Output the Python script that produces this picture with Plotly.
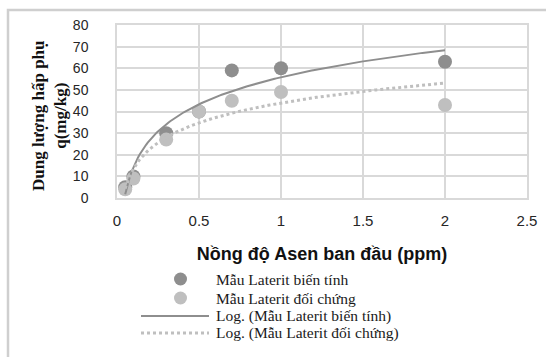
import numpy as np
import plotly.graph_objects as go

# ---- data ----
conc = [0.05, 0.1, 0.3, 0.5, 0.7, 1.0, 2.0]          # Nồng độ Asen ban đầu (ppm)
q_bien_tinh = [5, 10, 30, 40, 59, 60, 63]            # Mẫu Laterit biến tính
q_doi_chung = [4, 9, 27, 40, 45, 49, 43]             # Mẫu Laterit đối chứng
x_ticks = [0, 0.5, 1, 1.5, 2, 2.5]
y_ticks = [0, 10, 20, 30, 40, 50, 60, 70, 80]

names = ["Mẫu Laterit biến tính", "Mẫu Laterit đối chứng",
         "Log. (Mẫu Laterit biến tính)", "Log. (Mẫu Laterit đối chứng)"]

# logarithmic trendlines (least squares on ln x), as in the spreadsheet chart
x_arr = np.array(conc)
xs = np.linspace(x_arr.min(), x_arr.max(), 200)
a1, b1 = np.polyfit(np.log(x_arr), np.array(q_bien_tinh), 1)
a2, b2 = np.polyfit(np.log(x_arr), np.array(q_doi_chung), 1)
trend1 = a1 * np.log(xs) + b1
trend2 = a2 * np.log(xs) + b2

DARK = "#8e8e8e"
LIGHT = "#bfbfbf"
GRID = "#d9d9d9"
FRAME = "#cfcfcf"

W, H = 547, 358
L, R, T, B = 117, 20, 25, 160
PW, PH = W - L - R, H - T - B


def px(xp):
    return (xp - L) / PW


def py(yp):
    return (H - B - yp) / PH


fig = go.Figure()
fig.add_trace(go.Scatter(x=conc, y=q_bien_tinh, mode="markers", name=names[0],
                         marker=dict(size=14, color=DARK)))
fig.add_trace(go.Scatter(x=conc, y=q_doi_chung, mode="markers", name=names[1],
                         marker=dict(size=14, color=LIGHT)))
fig.add_trace(go.Scatter(x=xs, y=trend1, mode="lines", name=names[2],
                         line=dict(color=DARK, width=2)))
fig.add_trace(go.Scatter(x=xs, y=trend2, mode="lines", name=names[3],
                         line=dict(color=LIGHT, width=3, dash="dot")))

fig.update_layout(
    width=W, height=H,
    margin=dict(l=L, r=R, t=T, b=B, autoexpand=False),
    paper_bgcolor="white", plot_bgcolor="white",
    showlegend=False,
    xaxis=dict(range=[0, 2.5], tickvals=x_ticks, ticktext=[str(v) for v in x_ticks],
               showgrid=True, gridcolor=GRID, gridwidth=1.5,
               showline=True, linecolor=GRID, linewidth=1.5, mirror=True,
               zeroline=False, ticks="outside", ticklen=8, tickcolor="rgba(0,0,0,0)",
               tickfont=dict(family="Liberation Sans", size=15, color="#262626"),
               title=dict(text="<b>Nồng độ Asen ban đầu (ppm)</b>", standoff=20,
                          font=dict(family="Liberation Sans", size=18, color="#111111"))),
    yaxis=dict(range=[0, 80], tickvals=y_ticks,
               showgrid=True, gridcolor=GRID, gridwidth=1.5,
               showline=True, linecolor=GRID, linewidth=1.5, mirror=True,
               zeroline=False, ticks="outside", ticklen=24, tickcolor="rgba(0,0,0,0)",
               tickfont=dict(family="Liberation Sans", size=14, color="#262626")),
)

# y-axis title (two lines, bold serif)
fig.add_annotation(text="<b>Dung lượng hấp phụ<br>q(mg/kg)</b>", textangle=-90,
                   xref="paper", yref="paper", x=px(49), y=py(116),
                   xanchor="center", yanchor="middle", showarrow=False,
                   font=dict(family="Liberation Serif", size=17, color="#111111"))

# manual legend below the x-axis title
rows_y = [279, 298, 316, 333]
for i, name in enumerate(names):
    fig.add_annotation(text=name, xref="paper", yref="paper",
                       x=px(214), y=py(rows_y[i]), xanchor="left", yanchor="middle",
                       showarrow=False,
                       font=dict(family="Liberation Serif", size=15.5, color="#1a1a1a"))
for i, col in enumerate([DARK, LIGHT]):
    fig.add_shape(type="circle", xref="paper", yref="paper",
                  x0=px(174), x1=px(187), y0=py(rows_y[i] - 6.5), y1=py(rows_y[i] + 6.5),
                  fillcolor=col, line=dict(width=0))
fig.add_shape(type="line", xref="paper", yref="paper",
              x0=px(141), x1=px(209), y0=py(rows_y[2]), y1=py(rows_y[2]),
              line=dict(color=DARK, width=2))
fig.add_shape(type="line", xref="paper", yref="paper",
              x0=px(141), x1=px(209), y0=py(rows_y[3]), y1=py(rows_y[3]),
              line=dict(color=LIGHT, width=3, dash="dot"))

# chart area frame: left and top edges, drawn as a path in paper coordinates
x_left, y_top = px(8), py(10)
x_right, y_bottom = px(W - 1), py(H - 1)
fig.add_shape(type="path", xref="paper", yref="paper",
              path=f"M {x_left} {y_bottom} L {x_left} {y_top} L {x_right} {y_top}",
              line=dict(color=FRAME, width=2.5), layer="above")

fig.write_html("out.html", config={"displayModeBar": False},
               post_script="document.body.style.margin='0';document.body.style.padding='0';")
